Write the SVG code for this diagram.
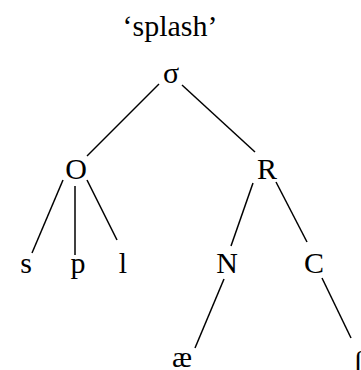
<svg xmlns="http://www.w3.org/2000/svg" width="361" height="370" viewBox="0 0 361 370">
<style>
.t{font-family:'Liberation Serif','Times New Roman','DejaVu Serif',serif;font-size:30px;fill:#000;text-anchor:middle}
.e line{stroke:#000;stroke-width:1.5;fill:none}
</style>
<rect width="361" height="370" fill="#fff"/>
<g class="t" font-family="Liberation Serif, serif">
<g id="title"><text x="170" y="36">‘splash’</text></g>
<g id="sigma"><text x="171" y="83">σ</text></g>
<g id="O"><text x="76" y="179">O</text></g>
<g id="R"><text x="267" y="179">R</text></g>
<g id="s"><text x="26" y="273">s</text></g>
<g id="p"><text x="78" y="273">p</text></g>
<g id="l"><text x="123" y="273">l</text></g>
<g id="N"><text x="227" y="273">N</text></g>
<g id="C"><text x="314" y="273">C</text></g>
<g id="ae"><text x="182" y="367">æ</text></g>
<g id="esh"><text x="353" y="371" text-anchor="start">ʃ</text></g>
</g>
<g class="e" id="connectors">
<line x1="159" y1="84" x2="87" y2="156"/>
<line x1="182" y1="85" x2="255" y2="152"/>
<line x1="63" y1="180" x2="32" y2="253"/>
<line x1="75" y1="186" x2="75" y2="255"/>
<line x1="87" y1="180" x2="117" y2="240"/>
<line x1="253" y1="183" x2="231" y2="246"/>
<line x1="276" y1="182" x2="307" y2="242"/>
<line x1="224" y1="279" x2="195" y2="348"/>
<line x1="322" y1="278" x2="351" y2="338"/>
</g>
</svg>
